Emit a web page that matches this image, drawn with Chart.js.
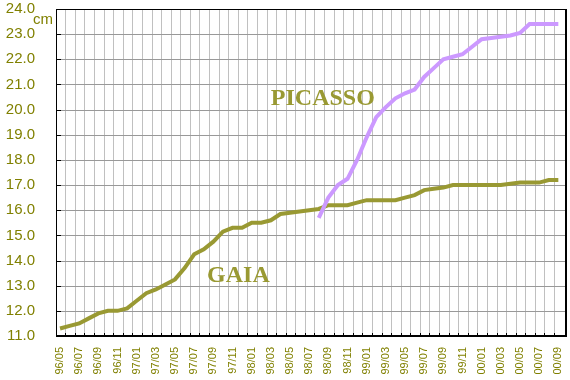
<!DOCTYPE html>
<html>
<head>
<meta charset="utf-8">
<script src="https://cdn.jsdelivr.net/npm/chart.js@4.4.1/dist/chart.umd.min.js"></script>
<style>
  html, body { margin: 0; padding: 0; background: #fff; }
  #wrap { width: 570px; height: 380px; }
</style>
</head>
<body>
<div id="wrap"><canvas id="growthChart" width="570" height="380"></canvas></div>
<script>
// 測定月 (YY/MM)
const months = [
  '96/05', '96/06', '96/07', '96/08', '96/09', '96/10', '96/11', '96/12',
  '97/01', '97/02', '97/03', '97/04', '97/05', '97/06', '97/07', '97/08', '97/09', '97/10', '97/11', '97/12',
  '98/01', '98/02', '98/03', '98/04', '98/05', '98/06', '98/07', '98/08', '98/09', '98/10', '98/11', '98/12',
  '99/01', '99/02', '99/03', '99/04', '99/05', '99/06', '99/07', '99/08', '99/09', '99/10', '99/11', '99/12',
  '00/01', '00/02', '00/03', '00/04', '00/05', '00/06', '00/07', '00/08', '00/09'
];

// GAIA (cm)
const gaia = [
  11.3, 11.4, 11.5, 11.7, 11.9, 12.0, 12.0, 12.1,
  12.4, 12.7, 12.85, 13.05, 13.25, 13.7, 14.25, 14.45, 14.75, 15.15, 15.3, 15.3,
  15.5, 15.5, 15.6, 15.85, 15.9, 15.95, 16.0, 16.05, 16.2, 16.2, 16.2, 16.3,
  16.4, 16.4, 16.4, 16.4, 16.5, 16.6, 16.8, 16.85, 16.9, 17.0, 17.0, 17.0,
  17.0, 17.0, 17.0, 17.05, 17.1, 17.1, 17.1, 17.2, 17.2
];

// PICASSO (cm) - 98/08から
const picasso = [
  null, null, null, null, null, null, null, null,
  null, null, null, null, null, null, null, null, null, null, null, null,
  null, null, null, null, null, null, null, 15.7, 16.5, 17.0, 17.25, 18.0,
  18.9, 19.7, 20.1, 20.45, 20.65, 20.8, 21.3, 21.65, 22.0, 22.1, 22.2, 22.5,
  22.8, 22.85, 22.9, 22.95, 23.05, 23.4, 23.4, 23.4, 23.4
];

const yTicks = [11, 12, 13, 14, 15, 16, 17, 18, 19, 20, 21, 22, 23, 24];
const unitLabel = 'cm';
const seriesNames = ['PICASSO', 'GAIA'];

const OLIVE_TEXT = '#808000';
const GAIA_COLOR = '#999933';
const PICASSO_COLOR = '#cc99ff';

const toPoints = arr => arr.map((v, i) => ({ x: i, y: v }));

// 枠・目盛り・グリッド・名前ラベル
const framePlugin = {
  id: 'frame',
  beforeDatasetsDraw(chart) {
    const { ctx, chartArea: a, scales: { x, y } } = chart;
    ctx.save();
    ctx.lineWidth = 1;
    ctx.strokeStyle = '#c0c0c0';
    for (let i = 0; i < months.length - 1; i++) {
      const px = Math.round(x.getPixelForValue(i + 0.55)) + 0.5;
      ctx.beginPath();
      ctx.moveTo(px, a.top);
      ctx.lineTo(px, a.bottom);
      ctx.stroke();
    }
    ctx.strokeStyle = '#999999';
    yTicks.forEach(v => {
      const py = Math.round(y.getPixelForValue(v)) + 0.5;
      ctx.beginPath();
      ctx.moveTo(a.left, py);
      ctx.lineTo(a.right, py);
      ctx.stroke();
    });
    ctx.restore();
  },
  afterDatasetsDraw(chart) {
    const { ctx, chartArea: a, scales: { x, y } } = chart;
    ctx.save();
    ctx.strokeStyle = '#000';
    // 内向きの目盛り
    ctx.lineWidth = 1;
    yTicks.forEach(v => {
      const py = Math.round(y.getPixelForValue(v)) + 0.5;
      ctx.beginPath();
      ctx.moveTo(a.left, py);
      ctx.lineTo(a.left + 5, py);
      ctx.stroke();
    });
    for (let i = 0; i < months.length - 1; i++) {
      const px = Math.round(x.getPixelForValue(i + 0.55)) + 0.5;
      ctx.beginPath();
      ctx.moveTo(px, a.bottom);
      ctx.lineTo(px, a.bottom - 3);
      ctx.stroke();
    }
    // 枠線
    ctx.lineWidth = 1;
    ctx.beginPath();
    ctx.moveTo(Math.round(a.left) + 0.5, a.bottom);
    ctx.lineTo(Math.round(a.left) + 0.5, Math.round(a.top) + 0.5);
    ctx.lineTo(a.right, Math.round(a.top) + 0.5);
    ctx.stroke();
    ctx.lineWidth = 2;
    ctx.beginPath();
    ctx.moveTo(a.left, Math.round(a.bottom));
    ctx.lineTo(Math.round(a.right), Math.round(a.bottom));
    ctx.lineTo(Math.round(a.right), a.top);
    ctx.stroke();

    // 単位
    ctx.fillStyle = OLIVE_TEXT;
    ctx.font = '15px "Liberation Sans", Arial, sans-serif';
    ctx.textAlign = 'left';
    ctx.textBaseline = 'alphabetic';
    ctx.fillText(unitLabel, 33, 24);

    // 系列名
    ctx.fillStyle = GAIA_COLOR;
    ctx.font = 'bold 24px "Liberation Serif", "Times New Roman", serif';
    ctx.fillText(seriesNames[0], x.getPixelForValue(22.0), y.getPixelForValue(20.2));
    ctx.fillText(seriesNames[1], x.getPixelForValue(15.35), y.getPixelForValue(13.15));
    ctx.restore();
  }
};

const ctx = document.getElementById('growthChart').getContext('2d');
new Chart(ctx, {
  type: 'line',
  data: {
    datasets: [
      {
        label: seriesNames[0],
        data: toPoints(picasso),
        borderColor: PICASSO_COLOR,
        borderWidth: 4,
        pointRadius: 0,
        tension: 0,
        spanGaps: false,
      },
      {
        label: seriesNames[1],
        data: toPoints(gaia),
        borderColor: GAIA_COLOR,
        borderWidth: 4,
        pointRadius: 0,
        tension: 0,
      },
    ],
  },
  options: {
    responsive: false,
    animation: false,
    events: [],
    layout: { padding: { top: 9, right: 4, left: 0, bottom: 0 } },
    plugins: {
      legend: { display: false },
      tooltip: { enabled: false },
    },
    scales: {
      x: {
        type: 'linear',
        min: -0.42,
        max: 52.8,
        grid: { display: false, drawTicks: false },
        border: { display: false },
        afterBuildTicks: scale => {
          scale.ticks = months.map((m, i) => ({ value: i })).filter(t => t.value % 2 === 0);
        },
        afterFit: scale => {
          scale.height = 44;
          scale.paddingLeft = 0;
          scale.paddingRight = 0;
        },
        ticks: {
          autoSkip: false,
          maxRotation: 90,
          minRotation: 90,
          padding: 11,
          color: OLIVE_TEXT,
          font: { family: '"Liberation Sans", Arial, sans-serif', size: 11 },
          callback: value => months[value],
        },
      },
      y: {
        min: 11,
        max: 24,
        grid: { display: false, drawTicks: false },
        border: { display: false },
        afterBuildTicks: scale => {
          scale.ticks = yTicks.map(v => ({ value: v }));
        },
        afterFit: scale => {
          scale.width = 56;
          scale.paddingTop = 0;
          scale.paddingBottom = 0;
        },
        ticks: {
          padding: 21,
          color: OLIVE_TEXT,
          font: { family: '"Liberation Sans", Arial, sans-serif', size: 15 },
          callback: value => value.toFixed(1),
        },
      },
    },
  },
  plugins: [framePlugin],
});
</script>
</body>
</html>
